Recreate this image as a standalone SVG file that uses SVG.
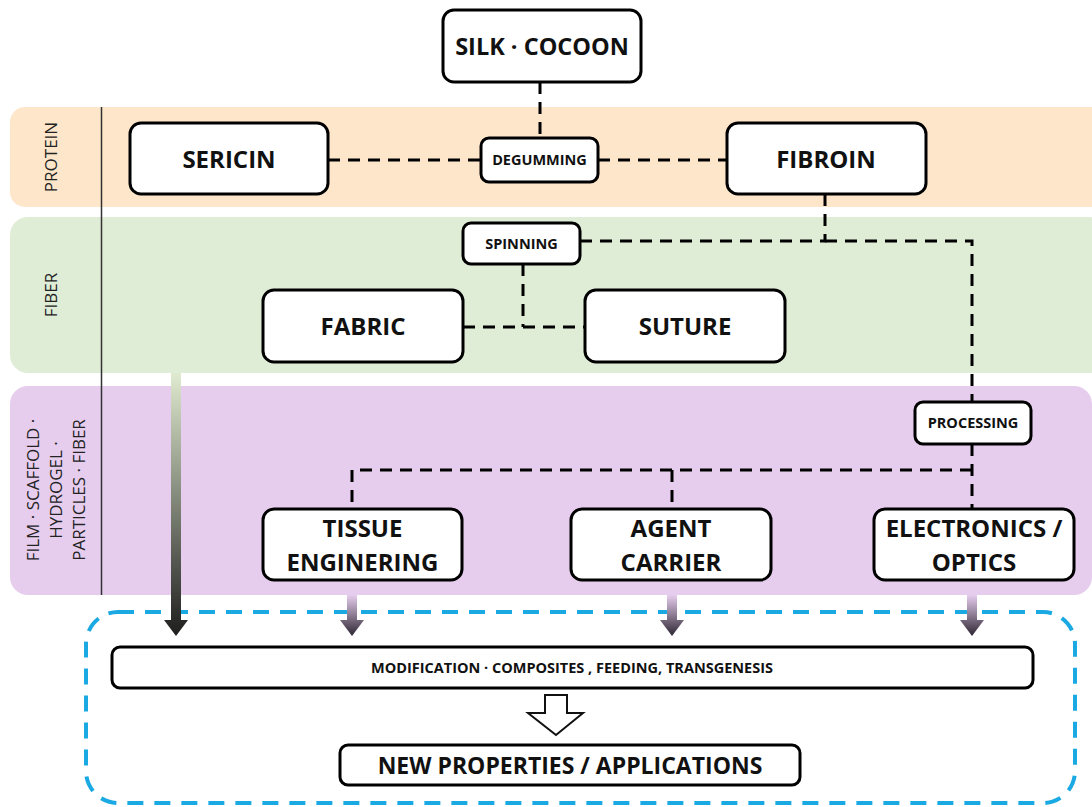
<svg xmlns="http://www.w3.org/2000/svg" width="1092" height="807" viewBox="0 0 1092 807">
<defs>
<linearGradient id="gGreen" x1="0" y1="0" x2="0" y2="1">
<stop offset="0" stop-color="#dfeacf"/>
<stop offset="1" stop-color="#1e1e1e"/>
</linearGradient>
<linearGradient id="gPurple" x1="0" y1="0" x2="0" y2="1">
<stop offset="0" stop-color="#e6cdee"/>
<stop offset="1" stop-color="#2e2633"/>
</linearGradient>
</defs>
<style>
.node{fill:#fff;stroke:#000;stroke-width:3}
.big{font-family:"Open Sans",sans-serif;font-weight:bold;font-size:24px;text-anchor:middle;fill:#111}
.small{font-family:"Open Sans",sans-serif;font-weight:bold;font-size:14.5px;text-anchor:middle;fill:#111}
.band{font-family:"Open Sans",sans-serif;font-size:17px;text-anchor:middle;fill:#222}
.dash{fill:none;stroke:#000;stroke-width:3;stroke-dasharray:12,8}
</style>
<g id="bands">
<rect x="10" y="107" width="1100" height="100" rx="15" fill="#fde6c9"/>
<rect x="10" y="217" width="1097" height="156" rx="18" fill="#e0edd6"/>
<rect x="10" y="386" width="1082" height="209" rx="18" fill="#e6cdee"/>
<line x1="101.5" y1="107" x2="101.5" y2="595" stroke="#333" stroke-width="1.5"/>
<text class="band" transform="translate(57,157) rotate(-90)">PROTEIN</text>
<text class="band" transform="translate(57,295) rotate(-90)">FIBER</text>
<text class="band" transform="translate(39,490) rotate(-90)">FILM · SCAFFOLD ·</text>
<text class="band" transform="translate(62,490) rotate(-90)">HYDROGEL ·</text>
<text class="band" transform="translate(85,490) rotate(-90)">PARTICLES · FIBER</text>
</g>
<g id="connectors">
<path class="dash" d="M540 82 V138"/>
<path class="dash" d="M328 160 H481"/>
<path class="dash" d="M598 160 H727"/>
<path class="dash" d="M825 194 V241 H581"/>
<path class="dash" d="M825 241 H972 V402"/>
<path class="dash" d="M523 264 V327"/>
<path class="dash" d="M463 327 H585"/>
<path class="dash" d="M972 444 V509"/>
<path class="dash" d="M972 470 H352 V509"/>
<path class="dash" d="M672 470 V509"/>
</g>
<g id="container">
<rect x="86" y="612" width="989" height="191" rx="32" fill="none" stroke="#1aa9e3" stroke-width="4" stroke-dasharray="16,11"/>
</g>
<g id="arrows">
<path d="M171 373 H181 V620 H188 L176 636 L164 620 H171 Z" fill="url(#gGreen)"/>
<path d="M347 595 H357 V620 H364 L352 636 L340 620 H347 Z" fill="url(#gPurple)"/>
<path d="M667 595 H677 V620 H684 L672 636 L660 620 H667 Z" fill="url(#gPurple)"/>
<path d="M967 595 H977 V620 H984 L972 636 L960 620 H967 Z" fill="url(#gPurple)"/>
<path d="M545 695 H567 V713 H583 L556 735 L528 713 H545 Z" fill="#fff" stroke="#111" stroke-width="2"/>
</g>
<g id="silk-cocoon"><rect class="node" x="443" y="10" width="198" height="72" rx="11"/><text class="big" x="542" y="55" style="font-size:23.5px">SILK · COCOON</text></g>
<g id="sericin"><rect class="node" x="130" y="123" width="198" height="71" rx="11"/><text class="big" x="229" y="168">SERICIN</text></g>
<g id="degumming"><rect class="node" x="481" y="138" width="117" height="44" rx="8"/><text class="small" x="539.5" y="165">DEGUMMING</text></g>
<g id="fibroin"><rect class="node" x="727" y="123" width="199" height="71" rx="11"/><text class="big" x="826" y="168">FIBROIN</text></g>
<g id="spinning"><rect class="node" x="463" y="223" width="117" height="41" rx="8"/><text class="small" x="521.5" y="249">SPINNING</text></g>
<g id="fabric"><rect class="node" x="263" y="290" width="200" height="72" rx="11"/><text class="big" x="363" y="335">FABRIC</text></g>
<g id="suture"><rect class="node" x="585" y="290" width="200" height="72" rx="11"/><text class="big" x="685" y="335">SUTURE</text></g>
<g id="processing"><rect class="node" x="915" y="402" width="116" height="42" rx="8"/><text class="small" x="973" y="428">PROCESSING</text></g>
<g id="tissue"><rect class="node" x="263" y="509" width="199" height="71" rx="11"/><text class="big" x="362.5" y="537">TISSUE</text><text class="big" x="362.5" y="571">ENGINERING</text></g>
<g id="agent"><rect class="node" x="571" y="509" width="200" height="71" rx="11"/><text class="big" x="671" y="537">AGENT</text><text class="big" x="671" y="571">CARRIER</text></g>
<g id="electronics"><rect class="node" x="874" y="509" width="200" height="71" rx="11"/><text class="big" x="974" y="537">ELECTRONICS /</text><text class="big" x="974" y="571">OPTICS</text></g>
<g id="modification"><rect class="node" x="112" y="647" width="921" height="41" rx="8"/><text class="small" x="572" y="673">MODIFICATION · COMPOSITES , FEEDING, TRANSGENESIS</text></g>
<g id="new-properties"><rect class="node" x="340" y="745" width="460" height="40" rx="8"/><text class="big" x="570" y="774" style="font-size:23px">NEW PROPERTIES / APPLICATIONS</text></g>
</svg>
